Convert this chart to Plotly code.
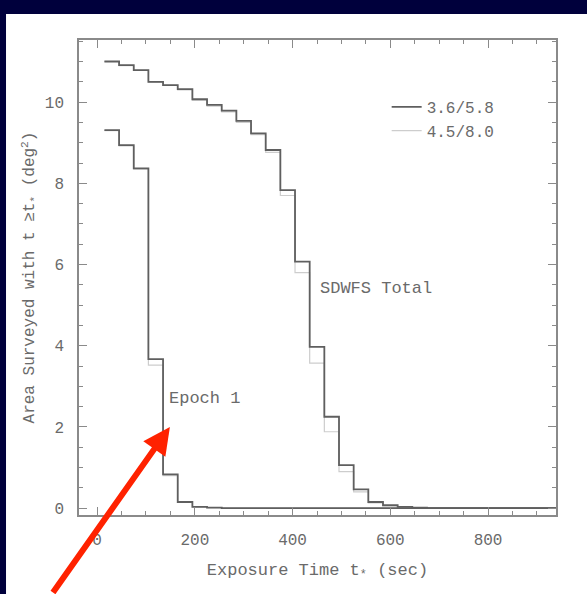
import plotly.graph_objects as go

# Bin left edges (sec), bin width 30 s; final edge extends the zero level to the right
edges = [15, 45, 75, 105, 135, 165, 195, 225, 255, 285, 315, 345, 375, 405, 435,
         465, 495, 525, 555, 585, 615, 645, 675, 945]

total_36 = [11.0, 10.91, 10.79, 10.5, 10.42, 10.32, 10.07, 9.93, 9.79, 9.54, 9.23,
            8.82, 7.83, 6.07, 3.97, 2.25, 1.06, 0.46, 0.15, 0.07, 0.03, 0.01, 0.0]
total_45 = [11.0, 10.9, 10.78, 10.49, 10.41, 10.3, 10.05, 9.9, 9.76, 9.5, 9.2,
            8.76, 7.7, 5.8, 3.57, 1.88, 0.9, 0.4, 0.13, 0.06, 0.03, 0.01, 0.0]
epoch_36 = [9.31, 8.94, 8.37, 3.67, 0.83, 0.15, 0.03, 0.01, 0.0, 0.0, 0.0,
            0.0, 0.0, 0.0, 0.0, 0.0, 0.0, 0.0, 0.0, 0.0, 0.0, 0.0, 0.0]
epoch_45 = [9.3, 8.92, 8.35, 3.52, 0.8, 0.14, 0.03, 0.01, 0.0, 0.0, 0.0,
            0.0, 0.0, 0.0, 0.0, 0.0, 0.0, 0.0, 0.0, 0.0, 0.0, 0.0, 0.0]

x_ticks = [0, 200, 400, 600, 800]
y_ticks = [0, 2, 4, 6, 8, 10]

DARK = "#5f5f5f"
LIGHT = "#cdcdcd"
TXT = "#6a6a6a"
FONT = "Liberation Mono"

fig = go.Figure()

def step(vals, color, width, name, show):
    fig.add_trace(go.Scatter(
        x=edges, y=vals + [vals[-1]], mode="lines", line_shape="hv",
        line=dict(color=color, width=width), name=name, showlegend=show,
        legendgroup=name))

step(total_45, LIGHT, 1.2, "4.5/8.0", False)
step(epoch_45, LIGHT, 1.2, "4.5/8.0", False)
step(total_36, DARK, 1.8, "3.6/5.8", True)
step(epoch_36, DARK, 1.8, "3.6/5.8", False)
fig.add_trace(go.Scatter(x=[None], y=[None], mode="lines",
                         line=dict(color=LIGHT, width=1.2), name="4.5/8.0"))

# white panel on the navy background
fig.add_shape(type="rect", xref="paper", yref="paper", layer="below",
              x0=-0.153, x1=1.07, y0=-0.17, y1=1.0547,
              fillcolor="white", line=dict(width=0))

fig.add_annotation(x=451, y=5.42, text="SDWFS Total", showarrow=False,
                   xanchor="left", yanchor="middle",
                   font=dict(family=FONT, size=17, color=TXT))
fig.add_annotation(x=143, y=2.71, text="Epoch 1", showarrow=False,
                   xanchor="left", yanchor="middle",
                   font=dict(family=FONT, size=17, color=TXT))

# red pointer arrow
fig.add_annotation(x=149, y=2.0, text="", showarrow=True, ax=-118, ay=172,
                   arrowcolor="#ff2200", arrowwidth=6, arrowhead=2,
                   arrowsize=0.9, standoff=0)

axis_common = dict(showline=True, linecolor="#8a8a8a", linewidth=1.5,
                   mirror="ticks", ticks="inside", ticklen=8, tickwidth=1.3,
                   tickcolor="#8a8a8a", showgrid=False, zeroline=False,
                   tickfont=dict(family=FONT, size=16, color=TXT))

fig.update_xaxes(range=[-37, 939], tickvals=x_ticks, ticklabelstandoff=9,
                 title=dict(text="Exposure Time t<sub>*</sub> (sec)",
                            font=dict(family=FONT, size=17, color=TXT), standoff=14),
                 minor=dict(ticks="inside", dtick=50, ticklen=4,
                            tickcolor="#8a8a8a", tickwidth=1.2),
                 **axis_common)
fig.update_yaxes(range=[-0.17, 11.53], tickvals=y_ticks, ticklabelstandoff=10,
                 title=dict(text="Area Surveyed with t ≥t<sub>*</sub> (deg<sup>2</sup>)",
                            font=dict(family=FONT, size=16, color=TXT), standoff=6),
                 minor=dict(ticks="inside", dtick=0.5, ticklen=4,
                            tickcolor="#8a8a8a", tickwidth=1.2),
                 **axis_common)

fig.update_layout(
    width=587, height=594,
    margin=dict(l=79, r=31, t=40, b=79),
    paper_bgcolor="#00003c", plot_bgcolor="white",
    legend=dict(x=0.645, y=0.895, xanchor="left", yanchor="top",
                bgcolor="rgba(0,0,0,0)", font=dict(family=FONT, size=16, color=TXT),
                tracegroupgap=0, itemwidth=30),
)

fig.write_html("out.html")
